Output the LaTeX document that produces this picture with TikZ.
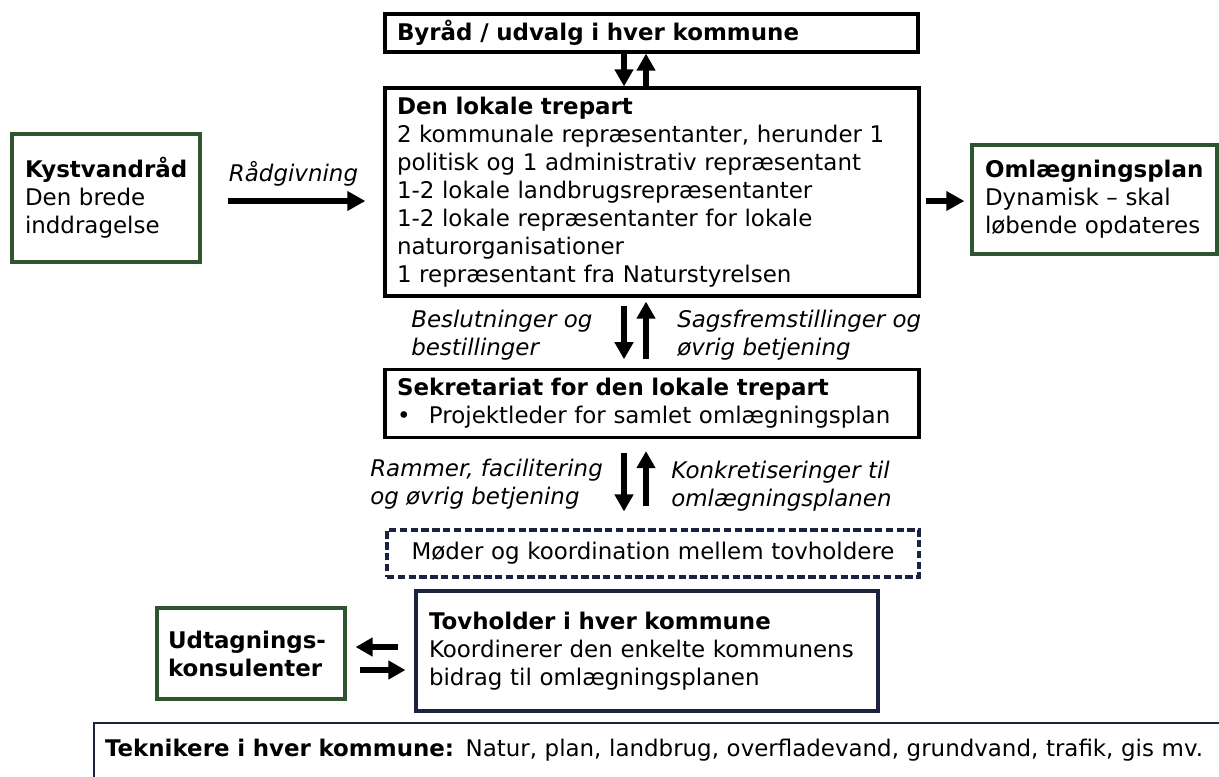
\documentclass[tikz,border=0pt]{standalone}
\usepackage{fontspec}
\setmainfont{DejaVu Sans}
\usetikzlibrary{arrows.meta}
\definecolor{dgreen}{HTML}{2E5530}
\definecolor{navy}{HTML}{1C2340}
\begin{document}
\begin{tikzpicture}[x=0.75pt,y=-0.75pt,
  font=\fontsize{17.2}{21}\selectfont,
  box/.style={draw, line width=2.4pt, inner xsep=9pt, inner ysep=0pt, align=left},
  gbox/.style={box, draw=dgreen, inner xsep=9.75pt},
  arr/.style={line width=4.2pt, -{Triangle[length=12.75pt,width=13.5pt]}},
  harr/.style={line width=5pt, -{Triangle[length=13.5pt,width=14pt]}},
  lbl/.style={font=\fontsize{17.2}{21}\selectfont\itshape, align=left, inner sep=0pt}]
\useasboundingbox (0,0) rectangle (1219,776);

\node[box, text width=381.75pt, minimum height=28.5pt] (byrad) at (651.5,33)
  {\textbf{Byråd / udvalg i hver kommune}};
\node[box, text width=382.5pt, minimum height=156pt] (trepart) at (652,192)
  {\textbf{Den lokale trepart}\\2 kommunale repræsentanter, herunder 1\\politisk og 1 administrativ repræsentant\\1-2 lokale landbrugsrepræsentanter\\1-2 lokale repræsentanter for lokale\\naturorganisationer\\1 repræsentant fra Naturstyrelsen};
\node[gbox, text width=121.5pt, minimum height=96pt] (kyst) at (106,198)
  {\textbf{Kystvandråd}\\Den brede\\inddragelse};
\node[gbox, text width=164.25pt, minimum height=81.75pt] (omlaeg) at (1094.5,199.5)
  {\textbf{Omlægningsplan}\\Dynamisk – skal\\løbende opdateres};
\node[box, text width=382.5pt, minimum height=51pt] (sekr) at (652,403.5)
  {\textbf{Sekretariat for den lokale trepart}\\\makebox[24pt][l]{•}Projektleder for samlet omlægningsplan};
\node[box, draw=navy, line width=2.3pt, dash pattern=on 5.5pt off 2.6pt, align=center,
  text width=381pt, minimum height=35.25pt] (moder) at (653,553.5)
  {Møder og koordination mellem tovholdere};
\node[box, draw=navy, inner xsep=9.75pt, text width=327pt, minimum height=90pt] (tov) at (647,651)
  {\textbf{Tovholder i hver kommune}\\Koordinerer den enkelte kommunens\\bidrag til omlægningsplanen};
\node[gbox, inner xsep=8.25pt, text width=124.5pt, minimum height=68.25pt] (udt) at (251,653.5)
  {\textbf{Udtagnings-}\\\textbf{konsulenter}};
\node[box, draw=navy, line width=1.5pt, anchor=north west, inner xsep=8.25pt, inner ysep=12pt,
  text width=851pt] (tek) at (93,722)
  {\textbf{Teknikere i hver kommune:} Natur, plan, landbrug, overfladevand, grundvand, trafik, gis mv.\rule[-30pt]{0pt}{30pt}};

\node[lbl] (lr) at (293.5,174) {Rådgivning};
\node[lbl, anchor=west] (l1) at (411,335.5) {Beslutninger og\\bestillinger};
\node[lbl, anchor=west] (l2) at (677,335.5) {Sagsfremstillinger og\\øvrig betjening};
\node[lbl, anchor=west] (l3) at (370,484) {Rammer, facilitering\\og øvrig betjening};
\node[lbl, anchor=west] (l4) at (671,486) {Konkretiseringer til\\omlægningsplanen};

\coordinate (cA) at (624,0);
\coordinate (cB) at (646,0);
\coordinate (rowK) at (0,201);
\coordinate (rowU1) at (0,647);
\coordinate (rowU2) at (0,670);

\draw[arr] (byrad.south -| cA) -- (trepart.north -| cA);
\draw[arr] (trepart.north -| cB) -- (byrad.south -| cB);
\draw[arr, shorten <=6pt, shorten >=6.5pt] (trepart.south -| cA) -- (sekr.north -| cA);
\draw[arr, shorten <=6.5pt, shorten >=3pt] (sekr.north -| cB) -- (trepart.south -| cB);
\draw[arr, shorten <=10.5pt, shorten >=12.75pt] (sekr.south -| cA) -- (moder.north -| cA);
\draw[arr, shorten <=16.5pt, shorten >=9pt] (moder.north -| cB) -- (sekr.south -| cB);
\draw[harr, shorten <=20pt, shorten >=13.5pt] (kyst.east |- rowK) -- (trepart.west |- rowK);
\draw[harr, shorten <=3.75pt, shorten >=4.5pt] (trepart.east |- rowK) -- (omlaeg.west |- rowK);
\draw[arr, shorten <=12pt, shorten >=6.75pt] (tov.west |- rowU1) -- (udt.east |- rowU1);
\draw[arr, shorten <=9.75pt, shorten >=6.75pt] (udt.east |- rowU2) -- (tov.west |- rowU2);
\end{tikzpicture}
\end{document}
